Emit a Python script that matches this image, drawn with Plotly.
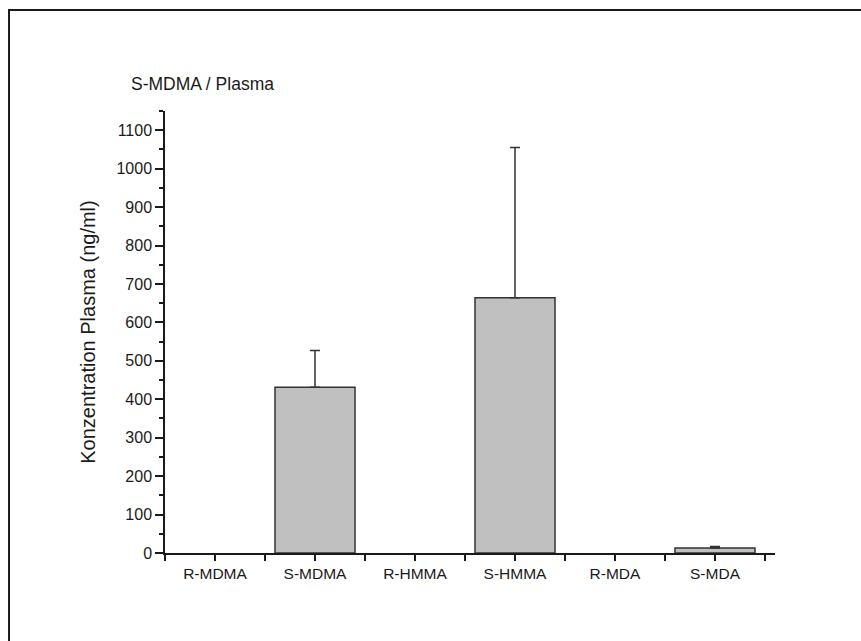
import plotly.graph_objects as go

# Plasma concentrations after S-MDMA administration (mean + SD);
# None marks analytes that were not detected
categories = ["R-MDMA", "S-MDMA", "R-HMMA", "S-HMMA", "R-MDA", "S-MDA"]
means = [None, 431, None, 664, None, 13]
sd_upper = [None, 96, None, 391, None, 4]
y_ticks = list(range(0, 1101, 100))

positions = list(range(len(categories)))

FONT = "Liberation Sans, Arial, sans-serif"
INK = "#1a1a1a"

fig = go.Figure(
    go.Bar(
        x=positions,
        y=means,
        width=0.8,
        marker=dict(color="#c0c0c0", line=dict(color="#333333", width=1.5)),
        error_y=dict(
            type="data",
            symmetric=False,
            array=sd_upper,
            arrayminus=[0] * len(sd_upper),
            color="#333333",
            thickness=1.5,
            width=5,
        ),
    )
)

fig.update_layout(
    width=861,
    height=641,
    margin=dict(l=165, r=86, t=111, b=88),
    plot_bgcolor="white",
    paper_bgcolor="white",
    showlegend=False,
    font=dict(family=FONT, color=INK, size=16),
    xaxis=dict(
        range=[-0.5, 5.6],
        tickmode="array",
        tickvals=positions,
        ticktext=categories,
        ticks="outside",
        ticklen=6,
        tickwidth=1.5,
        tickcolor=INK,
        minor=dict(tick0=-0.5, dtick=1, ticks="outside", ticklen=6,
                   tickwidth=1.5, tickcolor=INK),
        showline=True,
        linecolor=INK,
        linewidth=1.5,
        showgrid=False,
        zeroline=False,
        tickfont=dict(size=15.5),
    ),
    yaxis=dict(
        range=[0, 1150],
        tickmode="array",
        tickvals=y_ticks,
        ticks="outside",
        ticklen=8,
        tickwidth=1.5,
        tickcolor=INK,
        minor=dict(tick0=50, dtick=100, ticks="outside", ticklen=4,
                   tickwidth=1.5, tickcolor=INK),
        showline=True,
        linecolor=INK,
        linewidth=1.5,
        showgrid=False,
        zeroline=False,
        tickfont=dict(size=16),
        title=dict(text="Konzentration Plasma (ng/ml)", font=dict(size=20),
                   standoff=15),
    ),
    annotations=[
        dict(
            text="S-MDMA / Plasma",
            xref="paper",
            yref="paper",
            x=-0.059,
            y=1.061,
            xanchor="left",
            yanchor="middle",
            showarrow=False,
            font=dict(size=17.5, family=FONT, color=INK),
        )
    ],
    shapes=[
        # outer frame around the figure
        dict(
            type="rect",
            xref="paper",
            yref="paper",
            x0=-0.2557,
            x1=1.6,
            y0=-0.6,
            y1=1.2285,
            line=dict(color=INK, width=2),
            fillcolor="rgba(0,0,0,0)",
            layer="below",
        )
    ],
)

fig.write_html("out.html")
